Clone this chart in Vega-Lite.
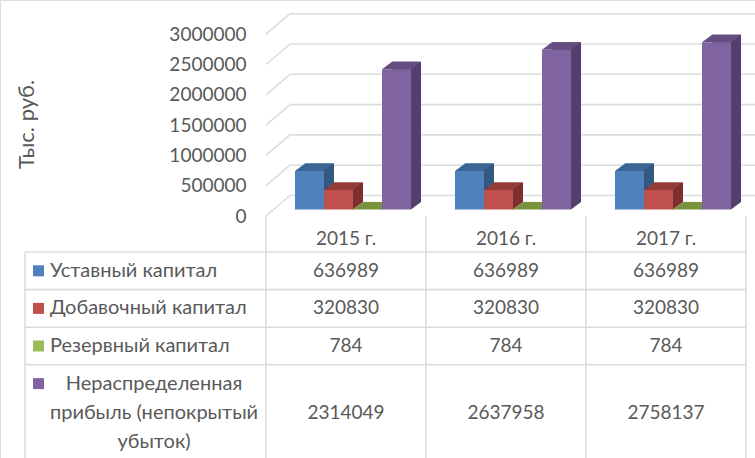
{
"$schema":"https://vega.github.io/schema/vega-lite/v6.json",
"width":755,"height":458,"padding":0,"autosize":"none","background":"white",
"datasets":{
"bars":[
{"year":"2015 г.","series":"Уставный капитал","value":636989},
{"year":"2015 г.","series":"Добавочный капитал","value":320830},
{"year":"2015 г.","series":"Резервный капитал","value":784},
{"year":"2015 г.","series":"Нераспределенная прибыль (непокрытый убыток)","value":2314049},
{"year":"2016 г.","series":"Уставный капитал","value":636989},
{"year":"2016 г.","series":"Добавочный капитал","value":320830},
{"year":"2016 г.","series":"Резервный капитал","value":784},
{"year":"2016 г.","series":"Нераспределенная прибыль (непокрытый убыток)","value":2637958},
{"year":"2017 г.","series":"Уставный капитал","value":636989},
{"year":"2017 г.","series":"Добавочный капитал","value":320830},
{"year":"2017 г.","series":"Резервный капитал","value":784},
{"year":"2017 г.","series":"Нераспределенная прибыль (непокрытый убыток)","value":2758137}],
"ticks":[{"tick":0},{"tick":500000},{"tick":1000000},{"tick":1500000},{"tick":2000000},{"tick":2500000},{"tick":3000000}],
"years":[{"year":"2015 г."},{"year":"2016 г."},{"year":"2017 г."}],
"columns":[{"year":"Показатель"},{"year":"2015 г."},{"year":"2016 г."},{"year":"2017 г."}],
"rows":[
{"series":"Уставный капитал","label":"Уставный капитал"},
{"series":"Добавочный капитал","label":"Добавочный капитал"},
{"series":"Резервный капитал","label":"Резервный капитал"},
{"series":"Нераспределенная прибыль (непокрытый убыток)","label":"Нераспределенная\nприбыль (непокрытый\nубыток)"}]
},
"encoding":{"x":{"field":"year","type":"nominal","axis":null,"sort":null,"scale":{"domain":["Показатель","2015 г.","2016 г.","2017 г."],"range":[113,753],"paddingInner":0,"paddingOuter":0}}},
"resolve":{"scale":{"y":"independent","color":"independent"}},
"layer":[
{"resolve":{"scale":{"color":"independent","xOffset":"independent"}},
 "layer":[
 {"data":{"name":"ticks"},
  "mark":{"type":"rule","color":"#dcdcdc","strokeWidth":1.6,"xOffset":97,"x2Offset":82,"yOffset":-14,"y2Offset":-14},
  "encoding":{"x":{"datum":"Показатель"},"x2":{"datum":"2017 г."},
   "y":{"field":"tick","type":"quantitative","scale":{"domain":[0,3000000],"range":[209.5,27.7]},
    "axis":{"title":"Тыс. руб.","titleFontSize":22,"titleFont":"Lato","titleFontWeight":"normal","titleColor":"#595959","titleX":-220,"titleY":124,"titleAngle":-90,"titleAlign":"center","titleBaseline":"middle","orient":"left","offset":-246,"domain":false,"ticks":false,"grid":false,"labelPadding":0,"labelOffset":6.5,"labelFont":"Lato","labelFontSize":19,"labelColor":"#595959","values":[0,500000,1000000,1500000,2000000,2500000,3000000],"format":"d"}},
   "y2":{"field":"tick"}}},
 {"data":{"name":"ticks"},
  "mark":{"type":"rule","color":"#dcdcdc","strokeWidth":1.6,"xOffset":73,"x2Offset":97,"yOffset":6.5,"y2Offset":-14},
  "encoding":{"x":{"datum":"Показатель"},"x2":{"datum":"Показатель"},
   "y":{"field":"tick","type":"quantitative"},"y2":{"field":"tick"}}},
 {"data":{"name":"bars"},
  "mark":{"type":"bar","yOffset":-7.5},
  "encoding":{"xOffset":{"field":"series","type":"nominal","sort":null,"scale":{"type":"band","domain":["Уставный капитал","Добавочный капитал","Резервный капитал","Нераспределенная прибыль (непокрытый убыток)"],"range":[10,170],"paddingInner":0,"paddingOuter":0.7586}},
   "y":{"field":"value","type":"quantitative"},
   "color":{"field":"series","type":"nominal","legend":null,"sort":null,"scale":{"domain":["Уставный капитал","Добавочный капитал","Резервный капитал","Нераспределенная прибыль (непокрытый убыток)"],"range":["#325780","#7a302e","#5f7530","#523f6d"]}}}},
 {"data":{"name":"bars"},
  "mark":{"type":"point","filled":true,"opacity":1,"size":4,"strokeWidth":0,"shape":"M14.5,0 L14.5,-7.5 L24.5,-7.5 Z"},
  "encoding":{"xOffset":{"field":"series","type":"nominal","sort":null,"scale":{"type":"band","domain":["Уставный капитал","Добавочный капитал","Резервный капитал","Нераспределенная прибыль (непокрытый убыток)"],"range":[0,160],"paddingInner":0,"paddingOuter":0.7586}},
   "y":{"datum":0,"type":"quantitative"},
   "color":{"field":"series","type":"nominal","legend":null,"sort":null,"scale":{"domain":["Уставный капитал","Добавочный капитал","Резервный капитал","Нераспределенная прибыль (непокрытый убыток)"],"range":["#325780","#7a302e","#5f7530","#523f6d"]}}}},
 {"data":{"name":"bars"},
  "mark":{"type":"point","filled":true,"opacity":1,"size":4,"strokeWidth":0,"shape":"M-14.5,0 L14.5,0 L24.5,-7.5 L-4.5,-7.5 Z"},
  "encoding":{"xOffset":{"field":"series","type":"nominal","sort":null,"scale":{"type":"band","domain":["Уставный капитал","Добавочный капитал","Резервный капитал","Нераспределенная прибыль (непокрытый убыток)"],"range":[0,160],"paddingInner":0,"paddingOuter":0.7586}},
   "y":{"field":"value","type":"quantitative"},
   "color":{"field":"series","type":"nominal","legend":null,"sort":null,"scale":{"domain":["Уставный капитал","Добавочный капитал","Резервный капитал","Нераспределенная прибыль (непокрытый убыток)"],"range":["#3a6594","#953b39","#77933c","#644e80"]}}}},
 {"data":{"name":"bars"},
  "mark":{"type":"bar"},
  "encoding":{"xOffset":{"field":"series","type":"nominal","sort":null,"scale":{"type":"band","domain":["Уставный капитал","Добавочный капитал","Резервный капитал","Нераспределенная прибыль (непокрытый убыток)"],"range":[0,160],"paddingInner":0,"paddingOuter":0.7586}},
   "y":{"field":"value","type":"quantitative"},
   "color":{"field":"series","type":"nominal","legend":null,"sort":null,"scale":{"domain":["Уставный капитал","Добавочный капитал","Резервный капитал","Нераспределенная прибыль (непокрытый убыток)"],"range":["#4f81bd","#c0504d","#9bbb59","#8064a2"]}}}}
 ]},
{"resolve":{"scale":{"color":"independent"}},
 "layer":[
 {"data":{"name":"rows"},
  "mark":{"type":"rule","color":"#dcdcdc","strokeWidth":1.6,"xOffset":-168,"x2Offset":73,"yOffset":-18.8},
  "encoding":{"x":{"datum":"Показатель"},"x2":{"datum":"2017 г."},
   "y":{"field":"series","type":"nominal","axis":null,"sort":null,"scale":{"domain":["Заголовок","Уставный капитал","Добавочный капитал","Резервный капитал","Нераспределенная прибыль (непокрытый убыток)"],"range":[214.4,402.4],"paddingInner":0,"paddingOuter":0}}}},
 {"data":{"name":"columns"},
  "mark":{"type":"rule","color":"#dcdcdc","strokeWidth":1.6,"xOffset":73,"yOffset":-17,"y2Offset":75},
  "encoding":{"y":{"datum":"Заголовок"},"y2":{"datum":"Нераспределенная прибыль (непокрытый убыток)"}}},
 {"data":{"values":[{"year":"Показатель"}]},
  "mark":{"type":"rule","color":"#dcdcdc","strokeWidth":1.6,"xOffset":-168,"yOffset":-18.8,"y2Offset":75},
  "encoding":{"y":{"datum":"Уставный капитал"},"y2":{"datum":"Нераспределенная прибыль (непокрытый убыток)"}}},
 {"data":{"name":"years"},
  "mark":{"type":"text","font":"Lato","fontSize":19,"color":"#595959","dx":-7,"dy":6},
  "encoding":{"y":{"datum":"Заголовок"},"text":{"field":"year","type":"nominal"}}},
 {"data":{"name":"bars"},
  "transform":[{"filter":"datum.series !== 'Нераспределенная прибыль (непокрытый убыток)'"}],
  "mark":{"type":"text","font":"Lato","fontSize":19,"color":"#595959","dx":-7},
  "encoding":{"y":{"field":"series","type":"nominal"},"text":{"field":"value","type":"quantitative","format":"d"}}},
 {"data":{"name":"bars"},
  "transform":[{"filter":"datum.series === 'Нераспределенная прибыль (непокрытый убыток)'"}],
  "mark":{"type":"text","font":"Lato","fontSize":19,"color":"#595959","dx":-7,"dy":29},
  "encoding":{"y":{"field":"series","type":"nominal"},"text":{"field":"value","type":"quantitative","format":"d"}}},
 {"data":{"name":"rows"},
  "mark":{"type":"point","filled":true,"opacity":1,"size":4,"strokeWidth":0,"xOffset":-154.5,"shape":"M-5.5,-5.5 L5.5,-5.5 L5.5,5.5 L-5.5,5.5 Z"},
  "encoding":{"x":{"datum":"Показатель"},"y":{"field":"series","type":"nominal"},
   "color":{"field":"series","type":"nominal","legend":null,"sort":null,"scale":{"domain":["Уставный капитал","Добавочный капитал","Резервный капитал","Нераспределенная прибыль (непокрытый убыток)"],"range":["#4f81bd","#c0504d","#9bbb59","#8064a2"]}}}},
 {"data":{"name":"rows"},
  "transform":[{"filter":"datum.series !== 'Нераспределенная прибыль (непокрытый убыток)'"}],
  "mark":{"type":"text","font":"Lato","fontSize":20,"color":"#595959","align":"left","dx":-143},
  "encoding":{"x":{"datum":"Показатель"},"y":{"field":"series","type":"nominal"},"text":{"field":"label","type":"nominal"}}},
 {"data":{"name":"rows"},
  "transform":[{"filter":"datum.series === 'Нераспределенная прибыль (непокрытый убыток)'"}],
  "mark":{"type":"text","font":"Lato","fontSize":20,"color":"#595959","align":"center","dx":-39,"lineBreak":"\n","lineHeight":29},
  "encoding":{"x":{"datum":"Показатель"},"y":{"field":"series","type":"nominal"},"text":{"field":"label","type":"nominal"}}}
 ]}
]
}
